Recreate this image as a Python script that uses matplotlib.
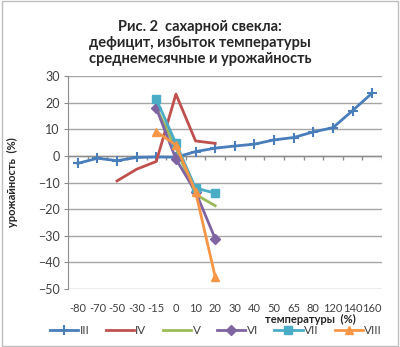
import numpy as np
import matplotlib.pyplot as plt
from matplotlib.patches import Rectangle

plt.rcParams['font.family'] = ['Lato', 'DejaVu Sans']

# temperature deviation categories (%)
categories = ['-80', '-70', '-50', '-30', '-15', '0', '10', '20',
              '30', '40', '50', '65', '80', '120', '140', '160']
nan = np.nan
s_III = [-2.8, -0.9, -1.8, -0.6, -0.4, -0.5, 1.6, 2.9,
         3.7, 4.4, 6.0, 6.9, 9.0, 10.6, 17.0, 23.6]
s_IV = [nan, nan, -9.4, -5.0, -2.1, 23.2, 5.6, 4.7] + [nan] * 8
s_V = [nan] * 4 + [18.0, 3.0, -14.5, -18.7] + [nan] * 8
s_VI = [nan] * 4 + [17.9, -1.2, -13.5, -31.1] + [nan] * 8
s_VII = [nan] * 4 + [21.2, 4.7, -12.1, -14.0] + [nan] * 8
s_VIII = [nan] * 4 + [9.1, 4.1, -13.5, -45.4] + [nan] * 8

series = [
    ('III', s_III, '#4A7EBB', '+', 7),
    ('IV', s_IV, '#C0504D', None, 0),
    ('V', s_V, '#9BBB59', None, 0),
    ('VI', s_VI, '#8064A2', 'D', 5),
    ('VII', s_VII, '#4BACC6', 's', 6),
    ('VIII', s_VIII, '#F79646', '^', 6),
]

fig = plt.figure(figsize=(4.0, 3.47), dpi=100)
ax = fig.add_axes([68 / 400, 1 - 289 / 347, 314 / 400, 213 / 347])

x = np.arange(len(categories))
for name, vals, col, mk, ms in series:
    ax.plot(x, vals, color=col, lw=2, marker=mk, markersize=ms,
            markeredgewidth=1.5 if mk == '+' else 1, label=name)

ax.set_xlim(-0.5, len(categories) - 0.5)
ax.set_ylim(-50, 30)
ax.set_yticks(np.arange(-50, 31, 10))
ax.yaxis.grid(True, color='#a6a6a6', lw=1)
ax.set_axisbelow(True)

# category axis crosses at zero, labels stay at the bottom
ax.axhline(0, color='#8c8c8c', lw=1, zorder=1.5)
bounds = np.arange(len(categories) + 1) - 0.5
ax.vlines(bounds, -1.4, 0, color='#8c8c8c', lw=1, zorder=1.5)

ax.set_xticks(x)
ax.set_xticklabels(categories)
ax.tick_params(axis='x', length=0, pad=10, labelsize=8, colors='#404040')
ax.tick_params(axis='y', length=3, color='#8c8c8c', labelsize=9,
               colors='#404040', pad=3)
for s in ['top', 'right', 'bottom']:
    ax.spines[s].set_visible(False)
ax.spines['left'].set_color('#8c8c8c')

title_lines = ['Рис. 2  сахарной свекла:', 'дефицит, избыток температуры',
               'среднемесячные и урожайность']
for i, line in enumerate(title_lines):
    fig.text(0.5, 1 - (27 + 16 * i) / 347, line, ha='center', va='center',
             fontsize=10.5, fontweight='bold', color='#262626')

fig.text(12 / 400, 1 - 182 / 347, 'урожайность  (%)', rotation=90,
         ha='center', va='center', fontsize=8, fontweight='bold',
         color='#262626')
fig.text(310 / 400, 1 - 319 / 347, 'температуры  (%)', ha='center',
         va='center', fontsize=8, fontweight='bold', color='#262626')

fig.legend(loc='center', bbox_to_anchor=(0.54, 1 - 331 / 347), ncol=6,
           frameon=False, fontsize=8.5, handlelength=2.4, columnspacing=1.4,
           handletextpad=0.1, labelcolor='#404040')

fig.patches.append(Rectangle((0.004, 0.004), 0.992, 0.992,
                             transform=fig.transFigure, fill=False,
                             edgecolor='#bfbfbf', lw=1))

fig.savefig('out.png', dpi=100)
